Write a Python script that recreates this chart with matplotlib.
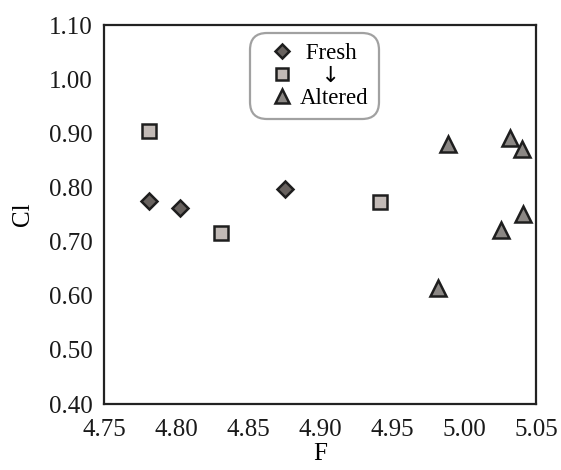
import matplotlib.pyplot as plt
from matplotlib.lines import Line2D

plt.rcParams['font.family'] = ['Liberation Serif', 'DejaVu Serif']

# F vs Cl for fresh, intermediate and altered samples
fresh_f = [4.781, 4.803, 4.876]
fresh_cl = [0.775, 0.762, 0.797]

mid_f = [4.781, 4.831, 4.942]
mid_cl = [0.904, 0.716, 0.773]

altered_f = [4.989, 5.032, 5.040, 5.041, 5.026, 4.982]
altered_cl = [0.880, 0.892, 0.871, 0.751, 0.721, 0.614]

xticks = [4.75, 4.80, 4.85, 4.90, 4.95, 5.00, 5.05]
yticks = [0.40, 0.50, 0.60, 0.70, 0.80, 0.90, 1.00, 1.10]

edge = '#1e1e1e'
styles = {
    'fresh': dict(marker='D', mfc='#68625f', mec=edge, mew=1.8),
    'mid': dict(marker='s', mfc='#c2bab6', mec=edge, mew=1.8),
    'altered': dict(marker='^', mfc='#8b8784', mec=edge, mew=1.8),
}
sizes = {'fresh': 8.5, 'mid': 10, 'altered': 11}
key_sizes = {'fresh': 7, 'mid': 8, 'altered': 9.5}

fig = plt.figure(figsize=(5.61, 4.70), dpi=100)
ax = fig.add_axes([0.1854, 0.1404, 0.77, 0.8064])

ax.plot(fresh_f, fresh_cl, ls='none', ms=sizes['fresh'], **styles['fresh'])
ax.plot(mid_f, mid_cl, ls='none', ms=sizes['mid'], **styles['mid'])
ax.plot(altered_f, altered_cl, ls='none', ms=sizes['altered'], **styles['altered'])

ax.set_xlim(4.75, 5.05)
ax.set_ylim(0.40, 1.10)
ax.set_xticks(xticks)
ax.set_yticks(yticks)
ax.set_xticklabels(['%.2f' % v for v in xticks])
ax.set_yticklabels(['%.2f' % v for v in yticks])
ax.tick_params(length=0, labelsize=18, colors='#1a1a1a')
ax.tick_params(axis='y', pad=8)
ax.tick_params(axis='x', pad=11)
for sp in ax.spines.values():
    sp.set_linewidth(1.6)
    sp.set_color('#222222')

ax.set_xlabel('F', fontsize=18, labelpad=1)
ax.set_ylabel('Cl', fontsize=18, labelpad=11)

# legend: fresh -> altered sequence
handles = [Line2D([], [], ls='none', ms=key_sizes[k], **styles[k])
           for k in ('fresh', 'mid', 'altered')]
leg = ax.legend(handles, [' Fresh', '   \u2193', 'Altered'],
                loc='upper left', bbox_to_anchor=(0.338, 0.979),
                fontsize=16.5, frameon=True, handlelength=1.9,
                handletextpad=-0.17, labelspacing=0.08, borderpad=0.45,
                borderaxespad=0, fancybox=True)
arrow = leg.get_texts()[1]
arrow.set_fontfamily('DejaVu Sans')
arrow.set_fontsize(16)
frame = leg.get_frame()
frame.set_edgecolor('#8a8a8a')
frame.set_linewidth(1.6)
frame.set_boxstyle('round,pad=0,rounding_size=0.75')

fig.savefig('out.png', dpi=100)
